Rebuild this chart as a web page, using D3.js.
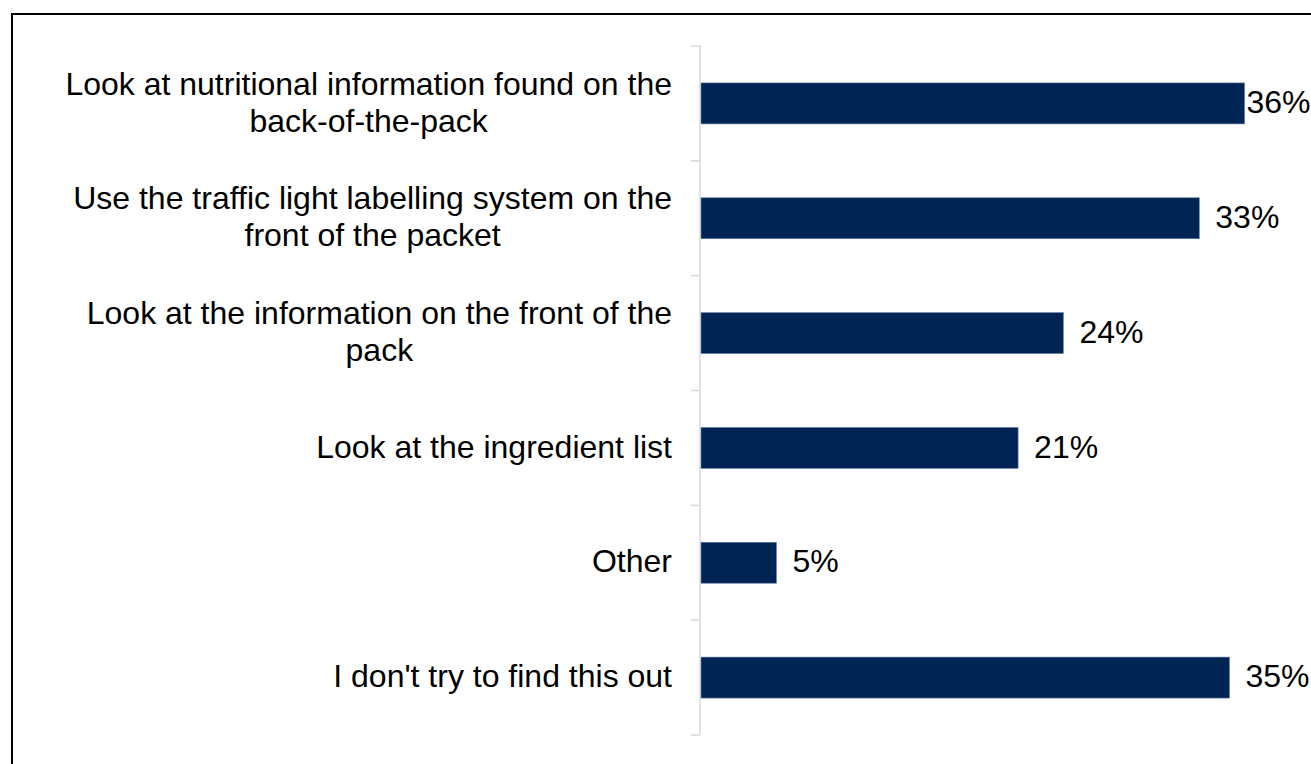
<!DOCTYPE html>
<html>
<head>
<meta charset="utf-8">
<script src="https://cdn.jsdelivr.net/npm/d3@7"></script>
<style>
  html, body { margin: 0; padding: 0; background: #fff; overflow: hidden; }
  svg { display: block; font-family: "Liberation Sans", Arial, sans-serif; }
</style>
</head>
<body>
<svg id="chart" width="1311" height="764"></svg>
<script>
// Survey responses: how people find out about the nutrition of food
const categories = [
  "Look at nutritional information found on the back-of-the-pack",
  "Use the traffic light labelling system on the front of the packet",
  "Look at the information on the front of the pack",
  "Look at the ingredient list",
  "Other",
  "I don't try to find this out"
];
// Wrapped label lines for each category
const categoryLines = [
  ["Look at nutritional information found on the", "back-of-the-pack"],
  ["Use the traffic light labelling system on the", "front of the packet"],
  ["Look at the information on the front of the", "pack"],
  ["Look at the ingredient list"],
  ["Other"],
  ["I don't try to find this out"]
];
const values = [36, 33, 24, 21, 5, 35];
const valueLabels = ["36%", "33%", "24%", "21%", "5%", "35%"];

const svg = d3.select("#chart");

// Outer frame
svg.append("rect")
  .attr("x", 12).attr("y", 14)
  .attr("width", 1330).attr("height", 780)
  .attr("fill", "none").attr("stroke", "#000").attr("stroke-width", 2);

const plot = { left: 701, top: 46, bottom: 735 };

const x = d3.scaleLinear().domain([0, 40]).range([plot.left, plot.left + 604]);
const y = d3.scaleBand().domain(categories).range([plot.top, plot.bottom])
  .paddingInner(0.643).paddingOuter(0.3215);

// Category axis with tick marks at band boundaries
const axisG = svg.append("g");
axisG.append("line")
  .attr("x1", 700).attr("x2", 700)
  .attr("y1", plot.top).attr("y2", plot.bottom)
  .attr("stroke", "#d9d9d9").attr("stroke-width", 1.5);
const boundaries = d3.range(categories.length + 1).map(i => plot.top + (plot.bottom - plot.top) * i / categories.length);
axisG.selectAll("line.tick").data(boundaries).join("line")
  .attr("class", "tick")
  .attr("x1", 691).attr("x2", 700)
  .attr("y1", d => d).attr("y2", d => d)
  .attr("stroke", "#d9d9d9").attr("stroke-width", 1.5);

// Bars
svg.append("g").selectAll("rect").data(values).join("rect")
  .attr("x", x(0))
  .attr("y", (d, i) => y(categories[i]))
  .attr("width", d => x(d) - x(0))
  .attr("height", y.bandwidth())
  .attr("fill", "#002554")
  .attr("stroke", "#6d84a3").attr("stroke-width", 0.6);

const fontSize = 32;
const lineH = 37;
const labelRight = 672;

// Category labels: each block right-aligned to the axis, lines centred within the block
const labelG = svg.append("g")
  .attr("font-size", fontSize).attr("fill", "#000");
categoryLines.forEach((lines, i) => {
  const cy = y(categories[i]) + y.bandwidth() / 2;
  const first = cy - (lines.length - 1) * lineH / 2;
  const texts = lines.map((ln, j) => labelG.append("text")
    .attr("y", first + j * lineH + fontSize * 0.3)
    .attr("text-anchor", "middle")
    .text(ln));
  const blockW = d3.max(texts, t => t.node().getComputedTextLength());
  texts.forEach(t => t.attr("x", labelRight - blockW / 2));
});

// Value labels at the end of each bar, kept inside the frame
svg.append("g").attr("font-size", fontSize).attr("fill", "#000")
  .selectAll("text").data(values).join("text")
  .attr("x", d => Math.min(x(d) + 16, 1246.5))
  .attr("y", (d, i) => y(categories[i]) + y.bandwidth() / 2 + fontSize * 0.3)
  .text((d, i) => valueLabels[i]);
</script>
</body>
</html>
